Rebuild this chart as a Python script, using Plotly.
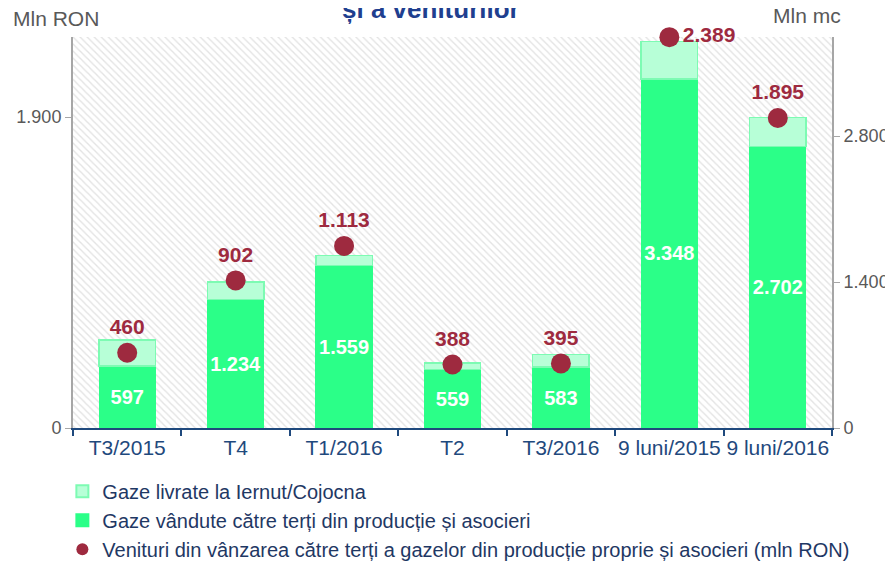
import plotly.graph_objects as go

categories = ["T3/2015", "T4", "T1/2016", "T2", "T3/2016", "9 luni/2015", "9 luni/2016"]
gaze_vandute = [597, 1234, 1559, 559, 583, 3348, 2702]
gaze_livrate = [249, 168, 95, 63, 122, 360, 275]
venituri = [460, 902, 1113, 388, 395, 2389, 1895]
venituri_textpos = ["top center", "top center", "top center", "top center", "top center", "middle right", "top center"]

left_ticks = [0, 1900]
left_ticktext = ["0", "1.900"]
right_ticks = [0, 1400, 2800]
right_ticktext = ["0", "1.400", "2.800"]

FONT = "Arial, Liberation Sans, sans-serif"
BLUE = "#1F497D"
GRAY = "#595959"
RED = "#9E2A3F"
DARK_GREEN = "#2BFF88"
LIGHT_GREEN = "#B7FFD7"

fig = go.Figure()

# hatched plot background (base subplot)
fig.add_trace(go.Bar(
    x=[0.5], y=[1], width=[1], xaxis="x", yaxis="y",
    marker=dict(color="white", line=dict(width=0),
                pattern=dict(shape="\\", fgcolor="#C8C8C8", bgcolor="white", size=5, solidity=0.28)),
    hoverinfo="skip", showlegend=False,
))

fig.add_trace(go.Bar(
    x=categories, y=gaze_vandute, xaxis="x2", yaxis="y2",
    name="Gaze vândute către terți din producție și asocieri",
    marker=dict(color=DARK_GREEN, line=dict(color=DARK_GREEN, width=1)),
    texttemplate="%{y:,d}", textposition="inside", insidetextanchor="middle",
    textangle=0, constraintext="none",
    textfont=dict(color="white", size=20, family=FONT, weight="bold"),
    legendrank=2,
))
fig.add_trace(go.Bar(
    x=categories, y=gaze_livrate, xaxis="x2", yaxis="y2",
    name="Gaze livrate la Iernut/Cojocna",
    marker=dict(color=LIGHT_GREEN, line=dict(color="#7DFBB3", width=1.5)),
    legendrank=1,
))
fig.add_trace(go.Scatter(
    x=categories, y=venituri, xaxis="x2", yaxis="y3", mode="markers+text",
    name="Venituri din vânzarea către terți a gazelor din producție proprie și asocieri (mln RON)",
    marker=dict(color=RED, size=20),
    texttemplate="%{y:,d}", textposition=venituri_textpos,
    textfont=dict(color=RED, size=21, family=FONT, weight="bold"),
    legendrank=3, cliponaxis=False,
))

fig.update_layout(
    width=893, height=562,
    margin=dict(l=65, r=69, t=29, b=142, autoexpand=False),
    paper_bgcolor="white", plot_bgcolor="white",
    separators=",.",
    barmode="stack", bargap=0.48,
    font=dict(family=FONT, size=18, color=GRAY),
    showlegend=True,
    legend=dict(x=-0.014, y=-0.112, xanchor="left", yanchor="top",
                font=dict(size=20, color="#1F3864", family=FONT),
                traceorder="normal", itemwidth=30, itemsizing="constant",
                bgcolor="rgba(0,0,0,0)"),
    xaxis=dict(domain=[0, 1], range=[0, 1], visible=False, fixedrange=True),
    yaxis=dict(domain=[0, 1], range=[0, 1], visible=False, fixedrange=True),
    xaxis2=dict(overlaying="x", anchor="y2", type="category", range=[-0.5, 6.5],
                showline=True, linecolor=BLUE, linewidth=2, tickangle=0,
                ticks="outside", tickson="boundaries", ticklen=6, tickcolor=BLUE, tickwidth=2,
                tickfont=dict(size=21, color=BLUE, family=FONT), showgrid=False),
    yaxis2=dict(overlaying="y", anchor="x2", side="right", range=[0, 3750],
                tickvals=right_ticks, ticktext=right_ticktext,
                showline=True, linecolor="#A6A6A6", linewidth=2,
                ticks="outside", ticklen=6, tickcolor="#A6A6A6", showgrid=False, zeroline=False,
                tickfont=dict(size=18, color=GRAY, family=FONT)),
    yaxis3=dict(overlaying="y", anchor="x2", side="left", range=[0, 2390],
                tickvals=left_ticks, ticktext=left_ticktext,
                showline=True, linecolor="#A6A6A6", linewidth=2,
                ticks="outside", ticklen=6, tickcolor="#A6A6A6", showgrid=False, zeroline=False,
                tickfont=dict(size=18, color=GRAY, family=FONT)),
    annotations=[
        dict(text="Mln RON", xref="paper", yref="paper", x=-0.082, y=1.012,
             xanchor="left", yanchor="bottom", showarrow=False,
             font=dict(size=21, color=GRAY, family=FONT)),
        dict(text="Mln mc", xref="paper", yref="paper", x=0.967, y=1.02,
             xanchor="center", yanchor="bottom", showarrow=False,
             font=dict(size=21, color=GRAY, family=FONT)),
        dict(text="<b>și a veniturilor</b>", xref="paper", yref="paper",
             x=0.472, y=1.072, xanchor="center", yanchor="middle", showarrow=False,
             font=dict(size=26, color="#1F3F8F", family=FONT)),
    ],
)

fig.write_html("out.html")
